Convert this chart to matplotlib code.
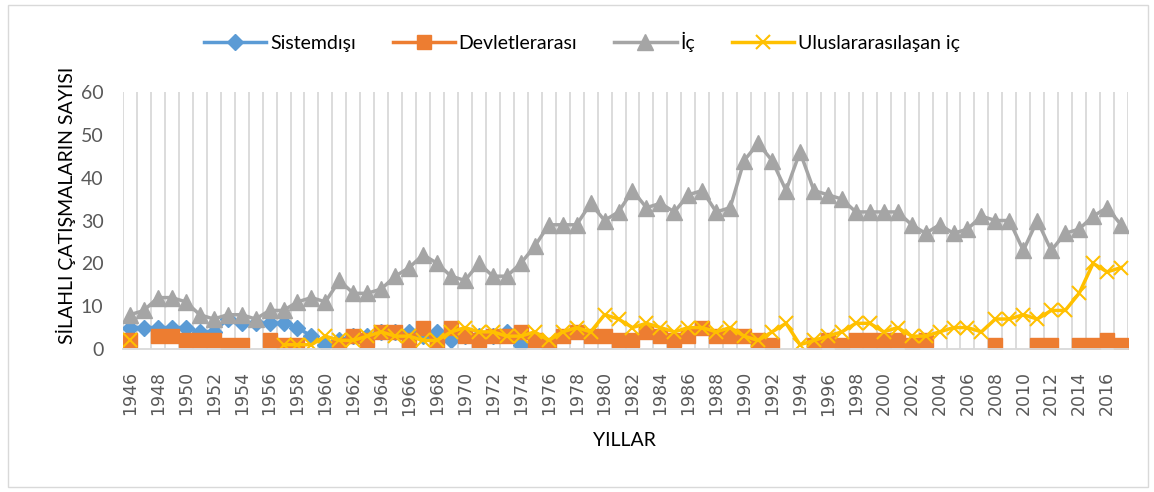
import numpy as np
import matplotlib
matplotlib.use("Agg")
import matplotlib.pyplot as plt
from matplotlib.patches import Rectangle

nan = np.nan

years = list(range(1946, 2018))

# Sistemdışı (1946-1974)
sistemdisi = [5, 5, 5, 5, 5, 4, 4, 7, 6, 6, 6, 6, 5, 3, 1, 2, 3, 3, 4, 4,
              4, 3, 4, 2, 3, 3, 3, 4, 1] + [nan] * 43

devletlerarasi = [2, nan, 3, 3, 2, 2, 2, 1, 1, nan,          # 1946-1955
                  2, 1, 1, nan, nan, 1, 3, 2, 4, 4,          # 1956-1965
                  2, 5, 1, 5, 3, 2, 3, 3, 4, 2,              # 1966-1975
                  1, 3, 4, 3, 3, 2, 2, 4, 3, 2,              # 1976-1985
                  3, 5, 3, 3, 3, 2, 1, nan, nan, 1,          # 1986-1995
                  2, 1, 2, 2, 2, 2, 1, 2, nan, nan,          # 1996-2005
                  nan, nan, 1, nan, nan, 1, 1, nan, 1, 1,    # 2006-2015
                  2, 1]                                      # 2016-2017

ic = [8, 9, 12, 12, 11, 8, 7, 8, 8, 7,
      9, 9, 11, 12, 11, 16, 13, 13, 14, 17,
      19, 22, 20, 17, 16, 20, 17, 17, 20, 24,
      29, 29, 29, 34, 30, 32, 37, 33, 34, 32,
      36, 37, 32, 33, 44, 48, 44, 37, 46, 37,
      36, 35, 32, 32, 32, 32, 29, 27, 29, 27,
      28, 31, 30, 30, 23, 30, 23, 27, 28, 31,
      33, 29]

uluslararasi = [2, nan, nan, nan, nan, nan, nan, nan, nan, nan,   # 1946-1955
                nan, 1, 1, 1, 3, 2, 2, 3, 4, 3,                    # 1956-1965
                3, 2, 2, 4, 5, 4, 4, 3, 3, 4,                      # 1966-1975
                2, 4, 5, 4, 8, 7, 5, 6, 5, 4,                      # 1976-1985
                5, 5, 4, 5, 3, 2, 4, 6, 1, 2,                      # 1986-1995
                3, 4, 6, 6, 4, 5, 3, 3, 4, 5,                      # 1996-2005
                5, 4, 7, 7, 8, 7, 9, 9, 13, 20,                    # 2006-2015
                18, 19]                                            # 2016-2017

labels = ["Sistemdışı", "Devletlerarası", "İç", "Uluslararasılaşan iç"]
colors = ["#5B9BD5", "#ED7D31", "#A5A5A5", "#FFC000"]

W, H = 1154, 492
fig = plt.figure(figsize=(W / 100, H / 100), dpi=100)
ax = fig.add_axes([123 / W, 1 - 349 / H, (1128 - 123) / W, (349 - 92) / H])

x = np.arange(len(years))
ax.plot(x, sistemdisi, color=colors[0], lw=2.5, marker="D", ms=8.5, label=labels[0])
ax.plot(x, devletlerarasi, color=colors[1], lw=2.5, marker="s", ms=10, label=labels[1])
ax.plot(x, ic, color=colors[2], lw=2.5, marker="^", ms=11, label=labels[2])
ax.plot(x, uluslararasi, color=colors[3], lw=2.5, marker="x", ms=10, mew=1.5, label=labels[3])

ax.set_xlim(-0.5, len(years) - 0.5)
ax.set_ylim(0, 60)
ax.set_yticks(range(0, 61, 10))
ax.set_xticks(x[::2])
ax.set_xticklabels([str(y) for y in years[::2]], rotation=90, family="DejaVu Sans",
                   fontsize=12.5, color="#595959")
for v in np.arange(-0.5, len(years), 1):
    ax.axvline(v, color="#D9D9D9", lw=1.3, zorder=0)

for s in ["top", "right", "left"]:
    ax.spines[s].set_visible(False)
ax.spines["bottom"].set_color("#D9D9D9")
ax.spines["bottom"].set_linewidth(1.3)
ax.tick_params(axis="both", length=0)
ax.tick_params(axis="y", labelsize=14, labelcolor="#595959", pad=14)
ax.tick_params(axis="x", pad=16)
for t in ax.get_yticklabels():
    t.set_family("Lato")

fig.text(624 / W, 1 - 441 / H, "YILLAR", ha="center", va="center", fontsize=14,
         family="Lato", color="#000000")
fig.text(66 / W, 1 - 205 / H, "SİLAHLI ÇATIŞMALARIN SAYISI", ha="center", va="center",
         rotation=90, fontsize=14, family="Lato", color="#000000")

fig.legend(loc="center", bbox_to_anchor=(582 / W, 1 - 42 / H), ncol=4, frameon=False,
           handlelength=3.2, columnspacing=1.9, handletextpad=0.2,
           prop={"family": "Lato", "size": 14})

fig.patches.append(Rectangle((8 / W, 5 / H), 1140 / W, 482 / H, transform=fig.transFigure,
                             fill=False, edgecolor="#D9D9D9", lw=1))

fig.savefig("out.png", dpi=100, facecolor="white")
